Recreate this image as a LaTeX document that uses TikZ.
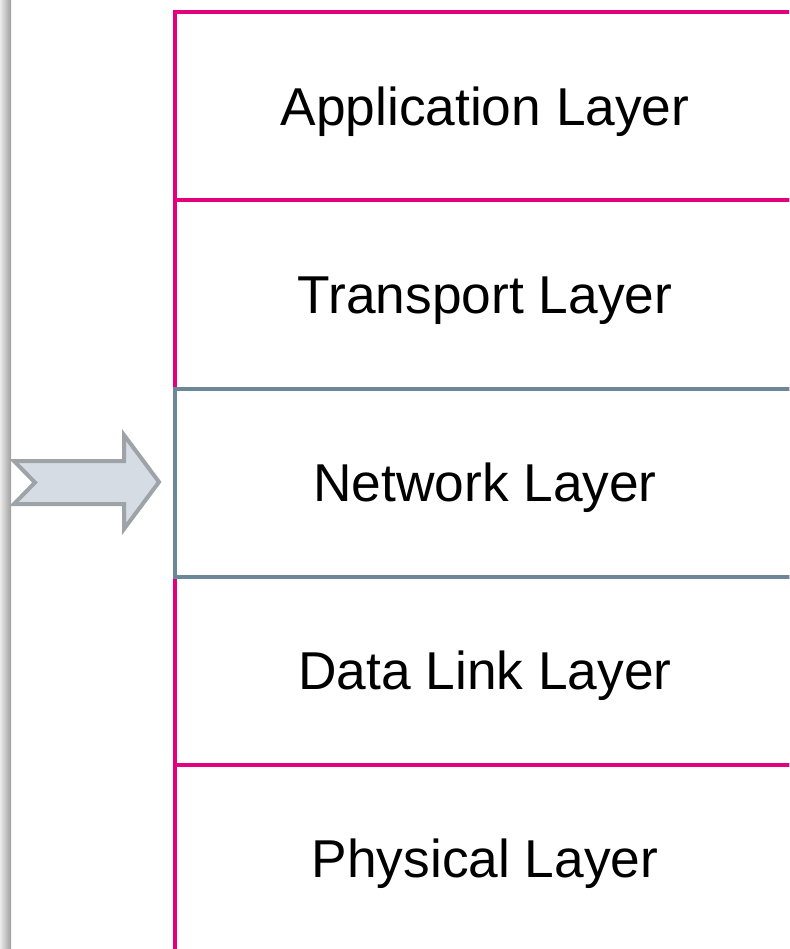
\documentclass[tikz,border=0pt]{standalone}
\usepackage{fontspec}
\setmainfont{Liberation Sans}
\usetikzlibrary{positioning}
\definecolor{layerpink}{HTML}{E4007C}
\definecolor{layerslate}{HTML}{6C8798}
\definecolor{arrowfill}{HTML}{D5DCE4}
\definecolor{arrowline}{HTML}{9EA3A8}
\tikzset{
  layerbox/.style={draw=layerpink, line width=4pt, minimum width=620pt,
    minimum height=188pt, outer sep=0pt, inner sep=0pt,
    text height=38pt, text depth=0pt,
    font=\fontsize{53.3}{60}\selectfont},
  netline/.style={draw=layerslate, line width=4pt}
}
\begin{document}
\begin{tikzpicture}[x=1pt,y=-1pt]
    \useasboundingbox (0,0) rectangle (789,949);
    \clip (0,0) rectangle (789,949);
    % gray edge on the left
    \shade[left color=black!8, right color=black!38] (0,0) rectangle (11,949);
    % the five layers
    \node[layerbox] (app) at (485,106.5) {Application Layer};
    \node[layerbox, below=0pt of app] (trans) {Transport Layer};
    \node[layerbox, below=0pt of trans] (net) {Network Layer};
    \node[layerbox, below=0pt of net] (link) {Data Link Layer};
    \node[layerbox, below=0pt of link] (phys) {Physical Layer};
    \draw[netline] (net.north west) rectangle (net.south east);
    % arrow pointing at the network layer
    \filldraw[draw=arrowline, fill=arrowfill, line width=4pt, line join=miter]
      (14,461) -- (124,461) -- (124,435) -- (159,482) -- (124,529)
      -- (124,504) -- (14,504) -- (35,482.5) -- cycle;
\end{tikzpicture}
\end{document}
